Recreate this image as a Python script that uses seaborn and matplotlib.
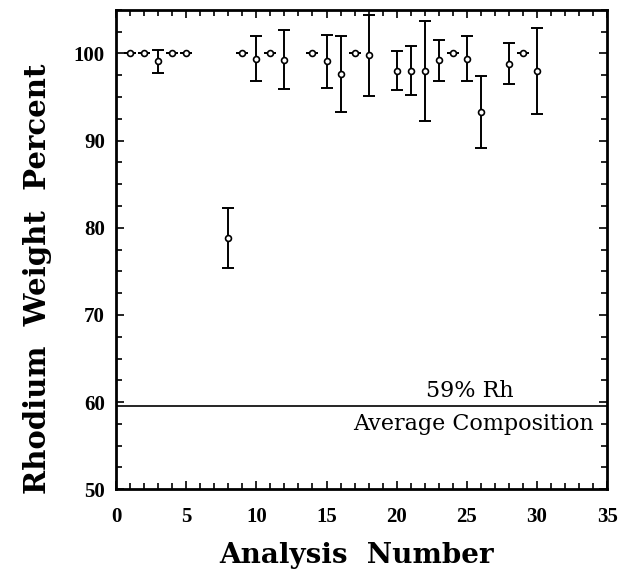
"""Rhodium weight percent per analysis, with the 59% Rh average line."""

import matplotlib

matplotlib.use("Agg")
import matplotlib.pyplot as plt
import pandas as pd
import seaborn as sns
from matplotlib.ticker import MultipleLocator

analysis_number = [1, 2, 3, 4, 5, 8, 9, 10, 11, 12, 14, 15, 16, 17, 18,
                   20, 21, 22, 23, 24, 25, 26, 28, 29, 30]
rh_percent = [100, 100, 99.1, 100, 100, 78.8, 100, 99.4, 100, 99.3, 100, 99.1, 97.6, 100, 99.8,
              98.0, 98.0, 98.0, 99.2, 100, 99.4, 93.3, 98.8, 100, 98.0]
rh_error = [0, 0, 1.3, 0, 0, 3.45, 0, 2.6, 0, 3.4, 0, 3.05, 4.35, 0, 4.65,
            2.25, 2.8, 5.7, 2.35, 0, 2.55, 4.1, 2.35, 0, 4.9]

avg_composition = 59.5
avg_label_top = "59% Rh"
avg_label_bottom = "Average Composition"

df = pd.DataFrame({"analysis": analysis_number, "rh": rh_percent, "err": rh_error})

sns.set_theme(style="ticks")
plt.rcParams["font.family"] = ["Liberation Serif", "DejaVu Serif"]
# plain black like the printed original, not seaborn's dark grey
for key in ["text.color", "axes.labelcolor", "axes.edgecolor", "xtick.color", "ytick.color"]:
    plt.rcParams[key] = "black"
label_font = ["DejaVu Serif"]

fig = plt.figure(figsize=(6.24, 5.79), dpi=100)
ax = fig.add_axes([0.186, 0.155, 0.787, 0.828])

ax.errorbar(df["analysis"], df["rh"], yerr=df["err"], fmt="none", ecolor="black",
            elinewidth=1.4, capsize=4, capthick=1.4, zorder=2)
sns.scatterplot(data=df, x="analysis", y="rh", ax=ax, marker="o", s=18,
                facecolor="white", edgecolor="black", linewidth=1.2, zorder=3)

ax.axhline(avg_composition, color="black", linewidth=1.2, zorder=1)
ax.text(25.2, avg_composition + 0.5, avg_label_top, ha="center", va="bottom",
        fontsize=16, family=label_font)
ax.text(25.5, avg_composition - 0.7, avg_label_bottom, ha="center", va="top",
        fontsize=16, family=label_font)

ax.set_xlim(0, 35)
ax.set_ylim(50, 105)
ax.xaxis.set_major_locator(MultipleLocator(5))
ax.xaxis.set_minor_locator(MultipleLocator(1))
ax.yaxis.set_major_locator(MultipleLocator(10))
ax.yaxis.set_minor_locator(MultipleLocator(2.5))
ax.tick_params(which="both", direction="in", top=True, right=True, width=1.2)
ax.tick_params(which="major", length=6, labelsize=15)
ax.tick_params(axis="x", which="major", pad=13)
ax.tick_params(axis="y", which="major", pad=8)
ax.tick_params(which="minor", length=4)
for lbl in ax.get_xticklabels() + ax.get_yticklabels():
    lbl.set_fontweight("bold")
for spine in ax.spines.values():
    spine.set_linewidth(2)

ax.set_xlabel("Analysis  Number", fontsize=20, fontweight="bold", family=label_font)
ax.set_ylabel("Rhodium  Weight  Percent", fontsize=21, fontweight="bold", family=label_font)
ax.xaxis.set_label_coords(0.49, -0.11)
ax.yaxis.set_label_coords(-0.13, 0.44)

fig.savefig("out.png", dpi=100)
plt.close(fig)
